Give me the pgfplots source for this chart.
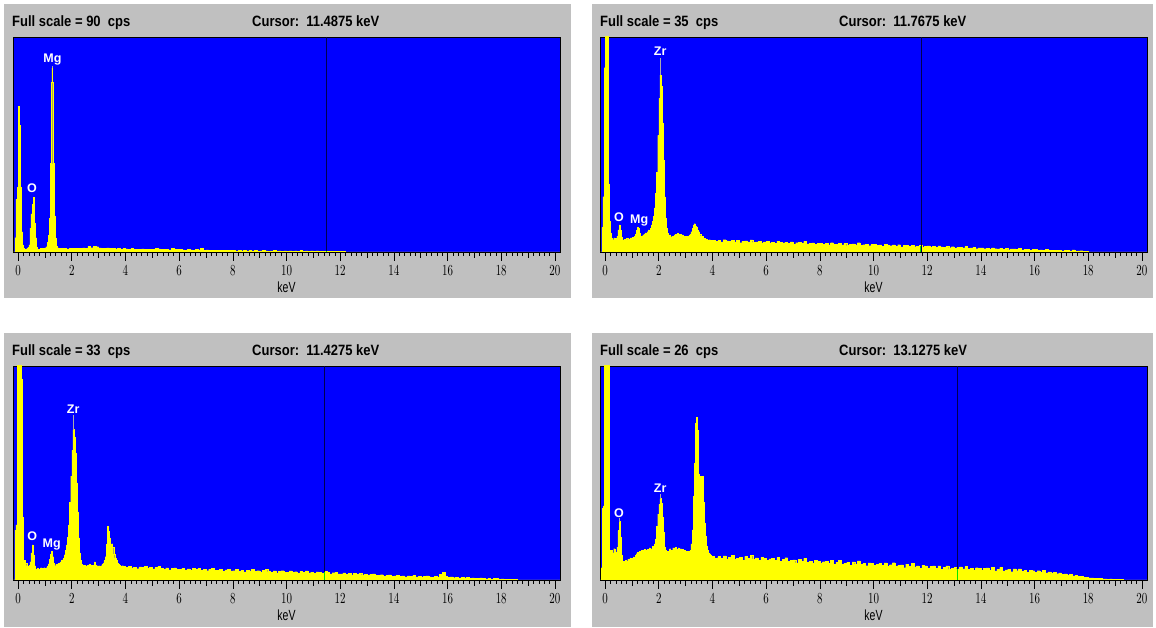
\documentclass[border=0pt]{standalone}
\usepackage{pgfplots}
\pgfplotsset{compat=1.18}
\usepackage{fontspec}
\setmainfont{Liberation Sans}
\definecolor{panelgray}{RGB}{192,192,192}
\definecolor{edsblue}{RGB}{0,0,255}
\definecolor{edsyellow}{RGB}{255,255,0}
\definecolor{cursorcol}{RGB}{0,0,80}
\definecolor{markgray}{RGB}{170,170,170}
\definecolor{cursorgreen}{RGB}{0,230,0}
\newcommand\hdrfont{\bfseries\fontsize{13}{15}\selectfont}
\newcommand\tickfont{\fontsize{10.5}{12}\selectfont}
\newcommand\elfont{\bfseries\fontsize{12.5}{14}\selectfont}
\pgfplotsset{
  eds/.style={
    scale only axis, width=547pt, anchor=south west,
    xmin=-0.19, xmax=20.19, ymin=0,
    axis background/.style={fill=edsblue},
    axis line style={black, line width=0.8pt},
    xtick={0,2,...,20}, minor x tick num=9,
    ytick=\empty, xtick pos=left,
    tick align=outside,
    every tick/.style={black, line width=0.6pt},
    major tick length=9pt, minor tick length=4pt,
    extra x ticks={1,3,...,19}, extra x tick labels={},
    extra x tick style={major tick length=6pt},
    xticklabel style={font=\tickfont, yscale=1.4},
    xlabel={keV},
    xlabel style={font=\tickfont, at={(axis description cs:0.5,0)}, anchor=center, yshift=-35pt, yscale=1.4},
  },
  spec/.style={const plot, fill=edsyellow, draw=edsyellow, line width=0.3pt},
  cur/.style={cursorcol, line width=0.7pt},
  curg/.style={cursorgreen, line width=1pt},
}
\begin{document}
\begin{tikzpicture}
\fill[white] (0pt,0pt) rectangle (1156pt,628pt);
\fill[panelgray] (4pt,330pt) rectangle (571pt,624pt);
\fill[panelgray] (592pt,330pt) rectangle (1153pt,624pt);
\fill[panelgray] (4pt,1pt) rectangle (571pt,295pt);
\fill[panelgray] (592pt,1pt) rectangle (1153pt,295pt);
\node[anchor=base west, inner sep=0pt, font=\hdrfont, yscale=1.15] at (12pt,601pt) {Full scale = 90\ \ cps};
\node[anchor=base west, inner sep=0pt, font=\hdrfont, yscale=1.15] at (252pt,601pt) {Cursor:\ \ 11.4875 keV};
\node[anchor=base west, inner sep=0pt, font=\hdrfont, yscale=1.15] at (600pt,601pt) {Full scale = 35\ \ cps};
\node[anchor=base west, inner sep=0pt, font=\hdrfont, yscale=1.15] at (839pt,601pt) {Cursor:\ \ 11.7675 keV};
\node[anchor=base west, inner sep=0pt, font=\hdrfont, yscale=1.15] at (12pt,272pt) {Full scale = 33\ \ cps};
\node[anchor=base west, inner sep=0pt, font=\hdrfont, yscale=1.15] at (252pt,272pt) {Cursor:\ \ 11.4275 keV};
\node[anchor=base west, inner sep=0pt, font=\hdrfont, yscale=1.15] at (600pt,272pt) {Full scale = 26\ \ cps};
\node[anchor=base west, inner sep=0pt, font=\hdrfont, yscale=1.15] at (839pt,272pt) {Cursor:\ \ 13.1275 keV};

% ---------------- Panel 1 ----------------
\begin{axis}[eds, at={(13pt,376pt)}, height=215pt, ymax=90]
\addplot[spec] coordinates {
(-0.19,0) (-0.13,0) (-0.12,6) (-0.08,22) (-0.04,27) (0.00,61) (0.04,53) (0.08,27) (0.12,8.5) (0.16,3)
(0.20,1.5) (0.24,1) (0.28,1.2) (0.32,1.5) (0.36,2) (0.40,3) (0.44,10) (0.48,16) (0.52,20) (0.56,23)
(0.60,12) (0.64,6) (0.68,2) (0.72,1.2) (0.76,1) (0.80,1.3) (0.84,1.6) (0.88,1.2) (0.92,1.5) (0.96,1.4)
(1.00,1.8) (1.04,2.2) (1.08,4) (1.12,7) (1.16,14) (1.20,37) (1.23,71) (1.26,77) (1.275,71) (1.29,37)
(1.33,15) (1.37,6) (1.41,2.5) (1.45,1.8)
(1.5,1.6) (1.6,1.4) (1.7,1.5) (1.8,1.3) (1.9,1.6) (2.0,1.5) (2.1,1.4) (2.2,1.6) (2.3,1.5) (2.4,1.7)
(2.5,1.6) (2.6,2.3) (2.7,1.8) (2.8,2.4) (2.9,2.2) (3.0,1.7) (3.1,1.6) (3.2,1.5) (3.3,1.7) (3.4,1.4)
(3.5,1.5) (3.6,1.3) (3.7,1.4) (3.8,1.2) (3.9,1.5) (4.0,1.3) (4.1,1.2) (4.2,1.4) (4.3,1.1) (4.4,1.2)
(4.5,1.0) (4.6,1.3) (4.7,1.1) (4.8,1.2) (4.9,1.0) (5.0,1.1) (5.1,1.4) (5.2,1.3) (5.3,1.0) (5.4,1.1)
(5.5,1.0) (5.6,0.9) (5.7,1.6) (5.8,1.2) (5.9,1.0) (6.0,1.1) (6.1,0.9) (6.2,0.8) (6.3,1.0) (6.4,0.9)
(6.5,0.8) (6.6,1.2) (6.7,0.9) (6.8,1.4) (6.9,0.8) (7.0,0.9) (7.1,0.8) (7.2,0.7) (7.3,0.8) (7.4,0.7)
(7.5,0.8) (7.6,0.6) (7.7,0.7) (7.8,0.6) (7.9,0.7) (8.0,0.6) (8.1,0.5) (8.2,0.6) (8.3,0.5) (8.4,0.6)
(8.5,0.5) (8.6,0.6) (8.7,0.5) (8.8,0.6) (8.9,0.4) (9.0,0.5) (9.1,0.6) (9.2,0.5) (9.3,0.4) (9.4,0.5)
(9.5,0.6) (9.6,0.4) (9.7,0.5) (9.8,0.4) (9.9,0.5) (10.0,0.4) (10.1,0.5) (10.2,0.4) (10.3,0.5) (10.4,0.4)
(10.5,0.6) (10.6,0.4) (10.7,0.5) (10.8,0.4) (10.9,0.5) (11.0,0.3) (11.1,0.5) (11.2,0.4) (11.3,0.3) (11.4,0.4)
(11.5,0.3) (11.6,0.4) (11.7,0.3) (11.8,0.3) (11.9,0.4) (12.0,0.3) (12.1,0.2) (12.2,0) (20.19,0)
} \closedcycle;
\addplot[cur] coordinates {(11.4875,0) (11.4875,90)};
\addplot[curg] coordinates {(11.4875,0) (11.4875,0.4)};
\draw[markgray] (axis cs:1.265,77) -- (axis cs:1.265,77.8);
\node[font=\elfont, text=white, inner sep=0pt] at (axis cs:1.28,80.5) {Mg};
\node[font=\elfont, text=white, inner sep=0pt] at (axis cs:0.52,26.8) {O};
\end{axis}

% ---------------- Panel 2 ----------------
\begin{axis}[eds, at={(600pt,376pt)}, height=215pt, ymax=35]
\addplot[spec] coordinates {
(-0.19,0) (-0.14,0) (-0.12,4) (-0.08,9) (-0.04,30) (0.00,40) (0.04,40) (0.08,40) (0.12,11) (0.16,5)
(0.20,3) (0.24,2.2) (0.28,2.0) (0.32,2.3) (0.36,2.0) (0.40,2.2) (0.44,2.6) (0.48,3.6) (0.52,4.4) (0.56,3.5)
(0.60,2.4) (0.64,2.0) (0.68,1.9) (0.72,2.1) (0.76,2.0) (0.80,2.2) (0.84,2.0) (0.88,2.1) (0.92,2.3) (0.96,2.2)
(1.00,2.4) (1.04,2.3) (1.08,2.6) (1.12,2.9) (1.16,3.5) (1.20,4.0) (1.24,3.8) (1.28,3.0) (1.32,2.6) (1.36,2.5)
(1.40,2.8) (1.44,2.9) (1.48,3.1) (1.52,3.0) (1.56,3.3) (1.60,3.6) (1.64,3.4) (1.68,3.9) (1.72,4.4) (1.76,5.0)
(1.80,5.8) (1.84,7.2) (1.88,9.5) (1.92,13) (1.96,19) (2.00,25) (2.04,28.8) (2.08,27) (2.12,21) (2.16,15)
(2.20,9) (2.24,5.5) (2.28,3.8) (2.32,3.0) (2.36,2.6) (2.40,2.8) (2.44,2.4) (2.48,2.6) (2.52,2.4) (2.56,2.7)
(2.60,2.9) (2.64,2.8) (2.68,3.0) (2.72,2.9) (2.76,2.8) (2.80,2.9) (2.84,2.7) (2.88,2.8) (2.92,2.6) (2.96,2.5)
(3.00,2.6) (3.04,2.4) (3.08,2.6) (3.12,2.7) (3.16,2.9) (3.20,3.3) (3.24,3.8) (3.28,4.4) (3.32,4.6) (3.36,4.2)
(3.40,4.0) (3.44,3.5) (3.48,3.3) (3.52,2.9) (3.56,2.6) (3.60,2.5) (3.64,2.3) (3.68,2.2) (3.72,2.0) (3.76,2.1)
(3.80,2.0) (3.84,1.9) (3.88,2.0) (3.92,1.8) (3.96,1.9)
(4.0,1.95) (4.1,1.74) (4.2,1.87) (4.3,1.66) (4.4,2.0) (4.5,1.79) (4.6,1.72) (4.7,1.86) (4.8,1.65) (4.9,1.89)
(5.0,1.52) (5.1,1.76) (5.2,1.80) (5.3,1.64) (5.4,1.97) (5.5,1.56) (5.6,1.65) (5.7,1.74) (5.8,1.47) (5.9,1.66)
(6.0,1.70) (6.1,1.49) (6.2,1.62) (6.3,1.41) (6.4,1.75) (6.5,1.54) (6.6,1.47) (6.7,1.61) (6.8,1.40) (6.9,1.64)
(7.0,1.27) (7.1,1.51) (7.2,1.55) (7.3,1.39) (7.4,1.72) (7.5,1.31) (7.6,1.40) (7.7,1.49) (7.8,1.22) (7.9,1.41)
(8.0,1.45) (8.1,1.24) (8.2,1.38) (8.3,1.17) (8.4,1.51) (8.5,1.30) (8.6,1.24) (8.7,1.38) (8.8,1.17) (8.9,1.41)
(9.0,1.05) (9.1,1.29) (9.2,1.33) (9.3,1.17) (9.4,1.51) (9.5,1.10) (9.6,1.19) (9.7,1.28) (9.8,1.02) (9.9,1.21)
(10.0,1.25) (10.1,1.04) (10.2,1.17) (10.3,0.96) (10.4,1.30) (10.5,1.09) (10.6,1.02) (10.7,1.16) (10.8,0.95) (10.9,1.19)
(11.0,0.82) (11.1,1.06) (11.2,1.10) (11.3,0.94) (11.4,1.10) (11.5,0.86) (11.6,0.95) (11.7,1.04) (11.8,0.77) (11.9,0.96)
(12.0,0.98) (12.1,0.80) (12.2,0.91) (12.3,0.75) (12.4,0.99) (12.5,0.82) (12.6,0.77) (12.7,0.87) (12.8,0.70) (12.9,0.86)
(13.0,0.60) (13.1,0.77) (13.2,0.80) (13.3,0.66) (13.4,0.89) (13.5,0.59) (13.6,0.66) (13.7,0.72) (13.8,0.53) (13.9,0.65)
(14.0,0.66) (14.1,0.53) (14.2,0.60) (14.3,0.48) (14.4,0.67) (14.5,0.54) (14.6,0.50) (14.7,0.57) (14.8,0.44) (14.9,0.57)
(15.0,0.38) (15.1,0.49) (15.2,0.51) (15.3,0.41) (15.4,0.58) (15.5,0.35) (15.6,0.40) (15.7,0.45) (15.8,0.30) (15.9,0.39)
(16.0,0.39) (16.1,0.30) (16.2,0.35) (16.3,0.27) (16.4,0.39) (16.5,0.30) (16.6,0.27) (16.7,0.32) (16.8,0.23) (16.9,0.31)
(17.0,0.19) (17.1,0.26) (17.2,0.27) (17.3,0.20) (17.4,0.36) (17.5,0.16) (17.6,0.19) (17.7,0.21) (17.8,0.12) (17.9,0.16)
(18.0,0) (20.19,0)
} \closedcycle;
\addplot[cur] coordinates {(11.7675,0) (11.7675,35)};
\addplot[curg] coordinates {(11.7675,0) (11.7675,1.04)};
\draw[markgray] (axis cs:2.05,28.8) -- (axis cs:2.05,31.6);
\node[font=\elfont, text=white, inner sep=0pt] at (axis cs:2.05,32.7) {Zr};
\node[font=\elfont, text=white, inner sep=0pt] at (axis cs:0.52,5.6) {O};
\node[font=\elfont, text=white, inner sep=0pt] at (axis cs:1.27,5.2) {Mg};
\end{axis}

% ---------------- Panel 3 ----------------
\begin{axis}[eds, at={(13pt,48pt)}, height=214pt, ymax=33]
\addplot[spec] coordinates {
(-0.19,0) (-0.14,0) (-0.12,7.7) (-0.08,8.5) (-0.04,40) (0.00,40) (0.04,40) (0.08,40) (0.12,31) (0.16,9.7)
(0.20,2.6) (0.24,3) (0.28,2.6) (0.32,2.2) (0.36,2.0) (0.40,2.3) (0.44,2.8) (0.48,4.2) (0.52,5.4) (0.56,3.8)
(0.60,2.2) (0.64,1.6) (0.68,1.5) (0.72,1.8) (0.76,1.6) (0.80,1.7) (0.84,1.9) (0.88,1.8) (0.92,1.7) (0.96,1.9)
(1.00,1.8) (1.04,1.9) (1.08,2.1) (1.12,2.5) (1.16,3.2) (1.20,4.0) (1.24,4.4) (1.28,3.6) (1.32,2.6) (1.36,2.2)
(1.40,2.4) (1.44,2.3) (1.48,2.6) (1.52,2.5) (1.56,2.8) (1.60,3.0) (1.64,3.1) (1.68,3.3) (1.72,3.9) (1.76,4.6)
(1.80,5.4) (1.84,6.6) (1.88,8.5) (1.92,12) (1.96,16) (2.00,20) (2.04,23.2) (2.08,22) (2.12,19.5) (2.16,15)
(2.20,10.5) (2.24,6.5) (2.28,4.2) (2.32,3.0) (2.36,2.4) (2.40,2.2) (2.44,2.3) (2.48,2.2) (2.52,2.1) (2.56,2.3)
(2.60,2.2) (2.64,2.4) (2.68,2.2) (2.72,2.3) (2.76,2.3) (2.80,2.2) (2.84,2.8) (2.88,2.3) (2.92,2.2) (2.96,2.1)
(3.00,2.2) (3.04,2.0) (3.08,2.2) (3.12,2.4) (3.16,2.6) (3.20,3.0) (3.24,3.6) (3.28,5.5) (3.32,8.3) (3.36,7.5)
(3.40,6.5) (3.44,5.2) (3.48,5.6) (3.52,5.0) (3.56,4.0) (3.60,3.4) (3.64,3.0) (3.68,2.6) (3.72,2.4) (3.76,2.3)
(3.80,2.2) (3.84,2.1) (3.88,2.2) (3.92,2.0) (3.96,2.1)
(4.0,1.95) (4.1,2.14) (4.2,1.87) (4.3,2.00) (4.4,1.74) (4.5,2.03) (4.6,1.91) (4.7,2.10) (4.8,1.78) (4.9,1.92)
(5.0,1.70) (5.1,1.94) (5.2,2.07) (5.3,1.76) (5.4,1.69) (5.5,1.88) (5.6,1.56) (5.7,1.80) (5.8,1.88) (5.9,1.62)
(6.0,1.65) (6.1,1.84) (6.2,1.58) (6.3,1.72) (6.4,1.46) (6.5,1.75) (6.6,1.63) (6.7,1.82) (6.8,1.51) (6.9,1.65)
(7.0,1.44) (7.1,1.68) (7.2,1.82) (7.3,1.51) (7.4,1.45) (7.5,1.64) (7.6,1.33) (7.7,1.57) (7.8,1.65) (7.9,1.39)
(8.0,1.43) (8.1,1.62) (8.2,1.36) (8.3,1.50) (8.4,1.24) (8.5,1.53) (8.6,1.42) (8.7,1.60) (8.8,1.30) (8.9,1.44)
(9.0,1.22) (9.1,1.46) (9.2,1.60) (9.3,1.29) (9.4,1.23) (9.5,1.42) (9.6,1.10) (9.7,1.35) (9.8,1.43) (9.9,1.17)
(10.0,1.21) (10.1,1.40) (10.2,1.14) (10.3,1.28) (10.4,1.02) (10.5,1.31) (10.6,1.20) (10.7,1.39) (10.8,1.08) (10.9,1.22)
(11.0,1.00) (11.1,1.24) (11.2,1.23) (11.3,1.07) (11.4,1.30) (11.5,1.19) (11.6,0.93) (11.7,1.12) (11.8,1.16) (11.9,0.95)
(12.0,0.96) (12.1,1.08) (12.2,0.90) (12.3,0.99) (12.4,0.79) (12.5,0.98) (12.6,0.90) (12.7,1.02) (12.8,0.79) (12.9,0.89)
(13.0,0.73) (13.1,0.88) (13.2,0.94) (13.3,0.74) (13.4,0.69) (13.5,0.81) (13.6,0.58) (13.7,0.75) (13.8,0.79) (13.9,0.60)
(14.0,0.62) (14.1,0.74) (14.2,0.55) (14.3,0.63) (14.4,0.47) (14.5,0.64) (14.6,0.57) (14.7,0.68) (14.8,0.49) (14.9,0.57)
(15.0,0.44) (15.1,0.58) (15.2,0.63) (15.3,0.47) (15.4,0.43) (15.5,0.55) (15.6,0.38) (15.7,0.90) (15.8,1.15) (15.9,0.60)
(16.0,0.45) (16.1,0.48) (16.2,0.36) (16.3,0.44) (16.4,0.30) (16.5,0.40) (16.6,0.33) (16.7,0.38) (16.8,0.25) (16.9,0.32)
(17.0,0.21) (17.1,0.30) (17.2,0.33) (17.3,0.21) (17.4,0.18) (17.5,0.25) (17.6,0.14) (17.7,0.21) (17.8,0.23) (17.9,0.13)
(18.0,0.16) (18.1,0.14) (18.2,0.13) (18.3,0.10) (18.4,0.12) (18.5,0.08) (18.6,0) (20.19,0)
} \closedcycle;
\addplot[cur] coordinates {(11.4275,0) (11.4275,33)};
\addplot[curg] coordinates {(11.4275,0) (11.4275,1.3)};
\draw[markgray] (axis cs:2.05,23.2) -- (axis cs:2.05,25.4);
\node[font=\elfont, text=white, inner sep=0pt] at (axis cs:2.05,26.3) {Zr};
\node[font=\elfont, text=white, inner sep=0pt] at (axis cs:0.53,6.7) {O};
\node[font=\elfont, text=white, inner sep=0pt] at (axis cs:1.25,5.5) {Mg};
\end{axis}

% ---------------- Panel 4 ----------------
\begin{axis}[eds, at={(600pt,48pt)}, height=214pt, ymax=26]
\addplot[spec] coordinates {
(-0.19,0) (-0.16,0) (-0.14,1.5) (-0.10,8.7) (-0.06,9) (-0.03,30) (0.00,30) (0.04,30) (0.08,30) (0.12,30)
(0.15,3.6) (0.20,3.4) (0.24,3.6) (0.28,3.3) (0.32,3.8) (0.36,3.4) (0.40,3.2) (0.44,4.0) (0.48,6.0) (0.52,7.1)
(0.56,5.2) (0.60,3.0) (0.64,2.2) (0.68,2.3) (0.72,2.2) (0.76,2.4) (0.80,2.3) (0.84,2.5) (0.88,2.4) (0.92,2.7)
(0.96,2.5) (1.00,2.6) (1.04,2.8) (1.08,2.7) (1.12,3.0) (1.16,3.2) (1.20,3.4) (1.24,3.3) (1.28,3.5) (1.32,3.4)
(1.36,3.6) (1.40,3.5) (1.44,3.7) (1.48,3.6) (1.52,3.4) (1.56,3.7) (1.60,3.6) (1.64,3.9) (1.68,3.7) (1.72,3.8)
(1.76,4.1) (1.80,4.0) (1.84,4.4) (1.88,5.0) (1.92,6.5) (1.96,8.0) (2.00,9.2) (2.04,9.9) (2.08,9.3) (2.12,7.6)
(2.16,5.8) (2.20,4.0) (2.24,3.6) (2.28,3.2) (2.32,3.5) (2.36,3.4) (2.40,3.8) (2.44,3.6) (2.48,3.5) (2.52,3.9)
(2.56,3.7) (2.60,4.0) (2.64,3.8) (2.68,3.6) (2.72,3.9) (2.76,3.7) (2.80,3.8) (2.84,3.6) (2.88,3.7) (2.92,3.5)
(2.96,3.6) (3.00,3.5) (3.04,3.4) (3.08,3.5) (3.12,3.4) (3.16,3.6) (3.20,4.4) (3.24,6.1) (3.28,10.2) (3.32,14.2)
(3.36,19) (3.40,19.8) (3.44,18.2) (3.48,12.8) (3.52,12.6) (3.56,12.5) (3.60,12.6) (3.64,9.5) (3.68,6.9) (3.72,5.3)
(3.76,4.1) (3.80,3.6) (3.84,3.3) (3.88,3.2) (3.92,3.0) (3.96,2.9) (4.00,2.8) (4.04,2.9) (4.08,2.7) (4.12,2.6)
(4.16,2.7)
(4.2,2.85) (4.3,2.60) (4.4,2.94) (4.5,2.49) (4.6,2.73) (4.7,2.98) (4.8,2.53) (4.9,2.67) (5.0,2.77) (5.1,2.41)
(5.2,2.86) (5.3,2.61) (5.4,3.00) (5.5,2.55) (5.6,2.68) (5.7,2.41) (5.8,2.74) (5.9,2.67) (6.0,2.40) (6.1,2.58)
(6.2,2.66) (6.3,2.39) (6.4,2.72) (6.5,2.25) (6.6,2.48) (6.7,2.71) (6.8,2.24) (6.9,2.37) (7.0,2.45) (7.1,2.08)
(7.2,2.52) (7.3,2.25) (7.4,2.63) (7.5,2.17) (7.6,2.30) (7.7,2.03) (7.8,2.37) (7.9,2.30) (8.0,2.03) (8.1,2.22)
(8.2,2.30) (8.3,2.03) (8.4,2.37) (8.5,1.90) (8.6,2.14) (8.7,2.37) (8.8,1.91) (8.9,2.05) (9.0,2.13) (9.1,1.77)
(9.2,2.21) (9.3,1.94) (9.4,2.33) (9.5,1.87) (9.6,2.00) (9.7,1.74) (9.8,2.08) (9.9,2.01) (10.0,1.75) (10.1,1.94)
(10.2,2.02) (10.3,1.76) (10.4,2.09) (10.5,1.63) (10.6,1.86) (10.7,2.10) (10.8,1.63) (10.9,1.77) (11.0,1.85) (11.1,1.49)
(11.2,1.92) (11.3,1.66) (11.4,1.99) (11.5,1.58) (11.6,1.71) (11.7,1.45) (11.8,1.78) (11.9,1.72) (12.0,1.45) (12.1,1.63)
(12.2,1.71) (12.3,1.45) (12.4,1.73) (12.5,1.31) (12.6,1.54) (12.7,1.72) (12.8,1.30) (12.9,1.44) (13.0,1.52) (13.1,1.35)
(13.2,1.59) (13.3,1.34) (13.4,1.63) (13.5,1.27) (13.6,1.41) (13.7,1.16) (13.8,1.50) (13.9,1.44) (14.0,1.19) (14.1,1.38)
(14.2,1.47) (14.3,1.21) (14.4,1.51) (14.5,1.10) (14.6,1.33) (14.7,1.52) (14.8,1.10) (14.9,1.24) (15.0,1.32) (15.1,1.01)
(15.2,1.34) (15.3,1.13) (15.4,1.36) (15.5,1.05) (15.6,1.18) (15.7,0.97) (15.8,1.20) (15.9,1.13) (16.0,0.96) (16.1,1.13)
(16.2,0.96) (16.3,1.14) (16.4,0.87) (16.5,1.00) (16.6,0.81) (16.7,0.97) (16.8,0.77) (16.9,0.86) (17.0,0.66) (17.1,0.75)
(17.2,0.60) (17.3,0.66) (17.4,0.50) (17.5,0.54) (17.6,0.41) (17.7,0.46) (17.8,0.33) (17.9,0.35) (18.0,0.25) (18.1,0.26)
(18.2,0.20) (18.3,0.17) (18.4,0.18) (18.5,0.14) (18.6,0.15) (18.7,0.12) (18.8,0.13) (18.9,0.10) (19.0,0.11) (19.1,0.08)
(19.2,0.10) (19.3,0) (20.19,0)
} \closedcycle;
\addplot[cur] coordinates {(13.1275,0) (13.1275,26)};
\addplot[curg] coordinates {(13.1275,0) (13.1275,1.35)};
\draw[markgray] (axis cs:2.05,9.9) -- (axis cs:2.05,10.5);
\node[font=\elfont, text=white, inner sep=0pt] at (axis cs:2.05,11.1) {Zr};
\draw[markgray] (axis cs:0.52,7.1) -- (axis cs:0.52,7.5);
\node[font=\elfont, text=white, inner sep=0pt] at (axis cs:0.52,8.1) {O};
\end{axis}
\end{tikzpicture}
\end{document}
